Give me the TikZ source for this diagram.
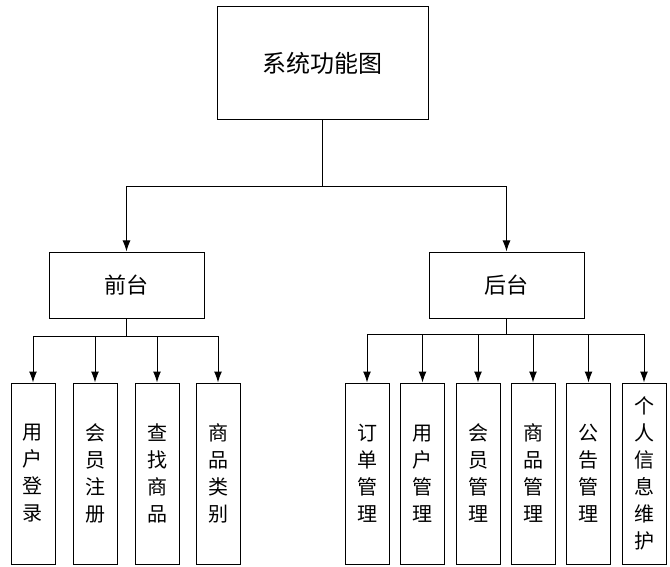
\documentclass[tikz,border=0pt]{standalone}
\usepackage{fontspec}
\newfontfamily\cjk{Noto Sans CJK SC}
\usetikzlibrary{arrows.meta}
\tikzset{
	box/.style={draw, line width=1pt, inner sep=0pt, font=\cjk},
	leaf/.style={box, minimum width=44pt, minimum height=181pt, align=center, font=\cjk\fontsize{20}{27}\selectfont},
	arr/.style={-{Latex[length=11pt,width=8pt]}, line width=1pt},
}
\begin{document}
\begin{tikzpicture}[x=1pt, y=-1pt]
			\useasboundingbox (0,0) rectangle (670,567);
			\node[box, minimum width=211pt, minimum height=113pt, font=\cjk\fontsize{24}{28}\selectfont] (root) at (322.5,63.5) {系统功能图};
			\node[box, minimum width=155pt, minimum height=66pt, font=\cjk\fontsize{22}{26}\selectfont] (qian) at (126.5,285) {前台};
			\node[box, minimum width=155pt, minimum height=66pt, font=\cjk\fontsize{22}{26}\selectfont] (hou) at (506.5,285) {后台};
			\coordinate (jr) at (322.5,187);
			\coordinate (jq) at (126.5,336);
			\coordinate (jh) at (506.5,334);
			\draw[line width=1pt] (root.south) -- (jr);
			\draw[arr] (jr) -| (qian.north);
			\draw[arr] (jr) -| (hou.north);
			% front end
			\draw[line width=1pt] (qian.south) -- (jq);
			\foreach \x/\t [count=\i] in {33/{用\\户\\登\\录}, 95/{会\\员\\注\\册}, 157/{查\\找\\商\\品}, 218/{商\\品\\类\\别}} {
				\node[leaf] (q\i) at (\x,473.5) {\t};
				\draw[arr] (jq) -| (q\i.north);
			}
			% back end
			\draw[line width=1pt] (hou.south) -- (jh);
			\foreach \x/\t [count=\i] in {367/{订\\单\\管\\理}, 422.5/{用\\户\\管\\理}, 478/{会\\员\\管\\理}, 533/{商\\品\\管\\理}, 588.5/{公\\告\\管\\理}, 644/{个\\人\\信\\息\\维\\护}} {
				\node[leaf] (h\i) at (\x,473.5) {\t};
				\draw[arr] (jh) -| (h\i.north);
			}
		\end{tikzpicture}
\end{document}
